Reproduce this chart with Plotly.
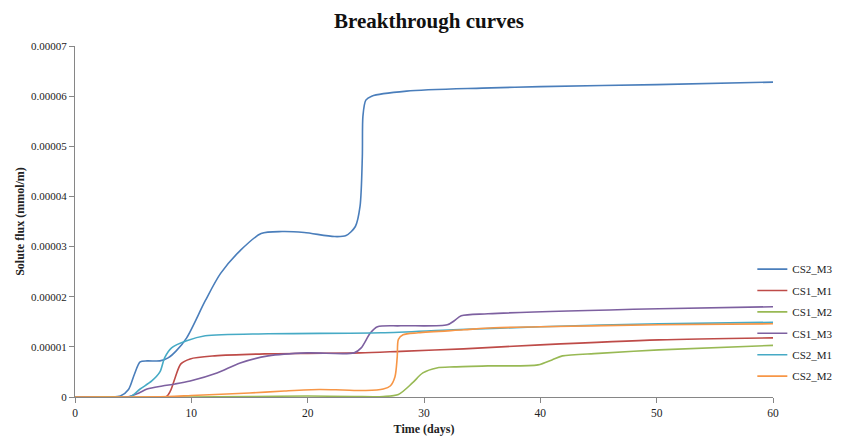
import plotly.graph_objects as go

# Values in units of 1e-5 mmol/m
UNIT = 1e-5

cs2_m3_t = [0, 3, 3.9, 4.6, 5.1, 5.6, 6.2, 7.3, 8.0, 8.7, 9.6, 11.2, 12.5, 14.2, 16.0, 17.8, 19.7, 22.3, 23.3, 24.1, 24.5, 24.7, 24.75, 25.0, 25.5, 28.5, 35, 40, 50, 60]
cs2_m3_v = [0, 0, 0.02, 0.15, 0.45, 0.7, 0.72, 0.72, 0.78, 0.92, 1.18, 1.92, 2.46, 2.92, 3.26, 3.3, 3.28, 3.2, 3.22, 3.4, 3.8, 4.8, 5.6, 5.92, 6.0, 6.1, 6.16, 6.19, 6.23, 6.28]

cs1_m1_t = [0, 7.8, 8.2, 8.6, 9.1, 9.9, 12.0, 16.3, 20, 24.5, 28, 33.4, 40, 50.2, 60]
cs1_m1_v = [0, 0, 0.12, 0.38, 0.66, 0.76, 0.82, 0.86, 0.87, 0.88, 0.91, 0.96, 1.04, 1.14, 1.18]

cs1_m2_t = [0, 10, 15, 20, 24, 26.5, 27.8, 29.0, 29.9, 31.1, 32.6, 35.5, 39.8, 41, 41.9, 45, 50.2, 60]
cs1_m2_v = [0, 0, 0.01, 0.02, 0.01, 0.01, 0.05, 0.28, 0.48, 0.58, 0.6, 0.62, 0.64, 0.74, 0.82, 0.87, 0.94, 1.03]

cs1_m3_t = [0, 4.5, 5.5, 6.2, 7.5, 8.6, 9.9, 12.2, 14.2, 16.6, 20, 24.0, 24.6, 25.4, 26.0, 28, 32.0, 32.6, 33.2, 35.5, 50.2, 60]
cs1_m3_v = [0, 0, 0.08, 0.16, 0.22, 0.26, 0.32, 0.48, 0.68, 0.82, 0.88, 0.88, 0.98, 1.28, 1.4, 1.42, 1.44, 1.52, 1.62, 1.66, 1.76, 1.8]

cs2_m1_t = [0, 4.7, 5.6, 6.6, 7.3, 7.7, 8.3, 9.6, 11.2, 16.6, 26.3, 32.5, 40, 50.2, 60]
cs2_m1_v = [0, 0, 0.16, 0.32, 0.5, 0.78, 0.98, 1.12, 1.22, 1.26, 1.28, 1.34, 1.4, 1.46, 1.49]

cs2_m2_t = [0, 3, 8, 10, 15, 18, 21, 23, 25, 26.5, 27.1, 27.5, 27.7, 27.8, 28.2, 29.5, 33.4, 36, 40, 50.2, 60]
cs2_m2_v = [0, 0, 0.01, 0.03, 0.08, 0.12, 0.15, 0.14, 0.13, 0.16, 0.22, 0.4, 0.8, 1.15, 1.24, 1.28, 1.34, 1.38, 1.4, 1.44, 1.46]

series = [
    ("CS2_M3", cs2_m3_t, cs2_m3_v, "#4A7EBB"),
    ("CS1_M1", cs1_m1_t, cs1_m1_v, "#BE4B48"),
    ("CS1_M2", cs1_m2_t, cs1_m2_v, "#98B954"),
    ("CS1_M3", cs1_m3_t, cs1_m3_v, "#7D60A0"),
    ("CS2_M1", cs2_m1_t, cs2_m1_v, "#46AAC5"),
    ("CS2_M2", cs2_m2_t, cs2_m2_v, "#F79646"),
]

y_ticks = [0, 1, 2, 3, 4, 5, 6, 7]
y_tick_labels = ["0", "0.00001", "0.00002", "0.00003", "0.00004", "0.00005", "0.00006", "0.00007"]
x_ticks = [0, 10, 20, 30, 40, 50, 60]

FONT = "Liberation Serif, Times New Roman, serif"

fig = go.Figure()
for name, t, v, color in series:
    fig.add_trace(go.Scatter(
        x=t, y=[val * UNIT for val in v], name=name, mode="lines", legendgroup=name,
        line=dict(color=color, width=1.6, shape="spline", smoothing=0.8),
    ))

axis_color = "#868686"
L, R = 58, 41
plot_w = 842 - L - R
fig.update_layout(
    width=842, height=437,
    paper_bgcolor="white", plot_bgcolor="white",
    margin=dict(l=L, r=R, t=38, b=41),
    font=dict(family=FONT, size=11.5, color="#222222"),
    title=dict(text="<b>Breakthrough curves</b>", x=0.5, xref="container", y=0.972, yref="container",
               xanchor="center", yanchor="middle", font=dict(family=FONT, size=21, color="#111111")),
    showlegend=True,
    legend=dict(x=(779 - L) / plot_w, xanchor="left", y=0.212, yanchor="middle", yref="paper",
                font=dict(family=FONT, size=11, color="#222222"), traceorder="grouped",
                bgcolor="rgba(0,0,0,0)", tracegroupgap=2.4, itemwidth=30),
    xaxis=dict(range=[0, 60], tickvals=x_ticks, showgrid=False, zeroline=False,
               showline=True, linecolor=axis_color, linewidth=1,
               ticks="outside", ticklen=5, tickcolor=axis_color, tickfont=dict(size=11.5),
               title=dict(text="<b>Time (days)</b>", font=dict(family=FONT, size=12), standoff=6)),
    yaxis=dict(range=[0, 7 * UNIT], tickvals=[k * UNIT for k in y_ticks], ticktext=y_tick_labels,
               showgrid=False, zeroline=False,
               showline=True, linecolor=axis_color, linewidth=1,
               ticks="outside", ticklen=5, tickcolor=axis_color, tickfont=dict(size=11),
               title=dict(text="<b>Solute flux (mmol/m)</b>", font=dict(family=FONT, size=12), standoff=3)),
)

fig.write_html("out.html")
